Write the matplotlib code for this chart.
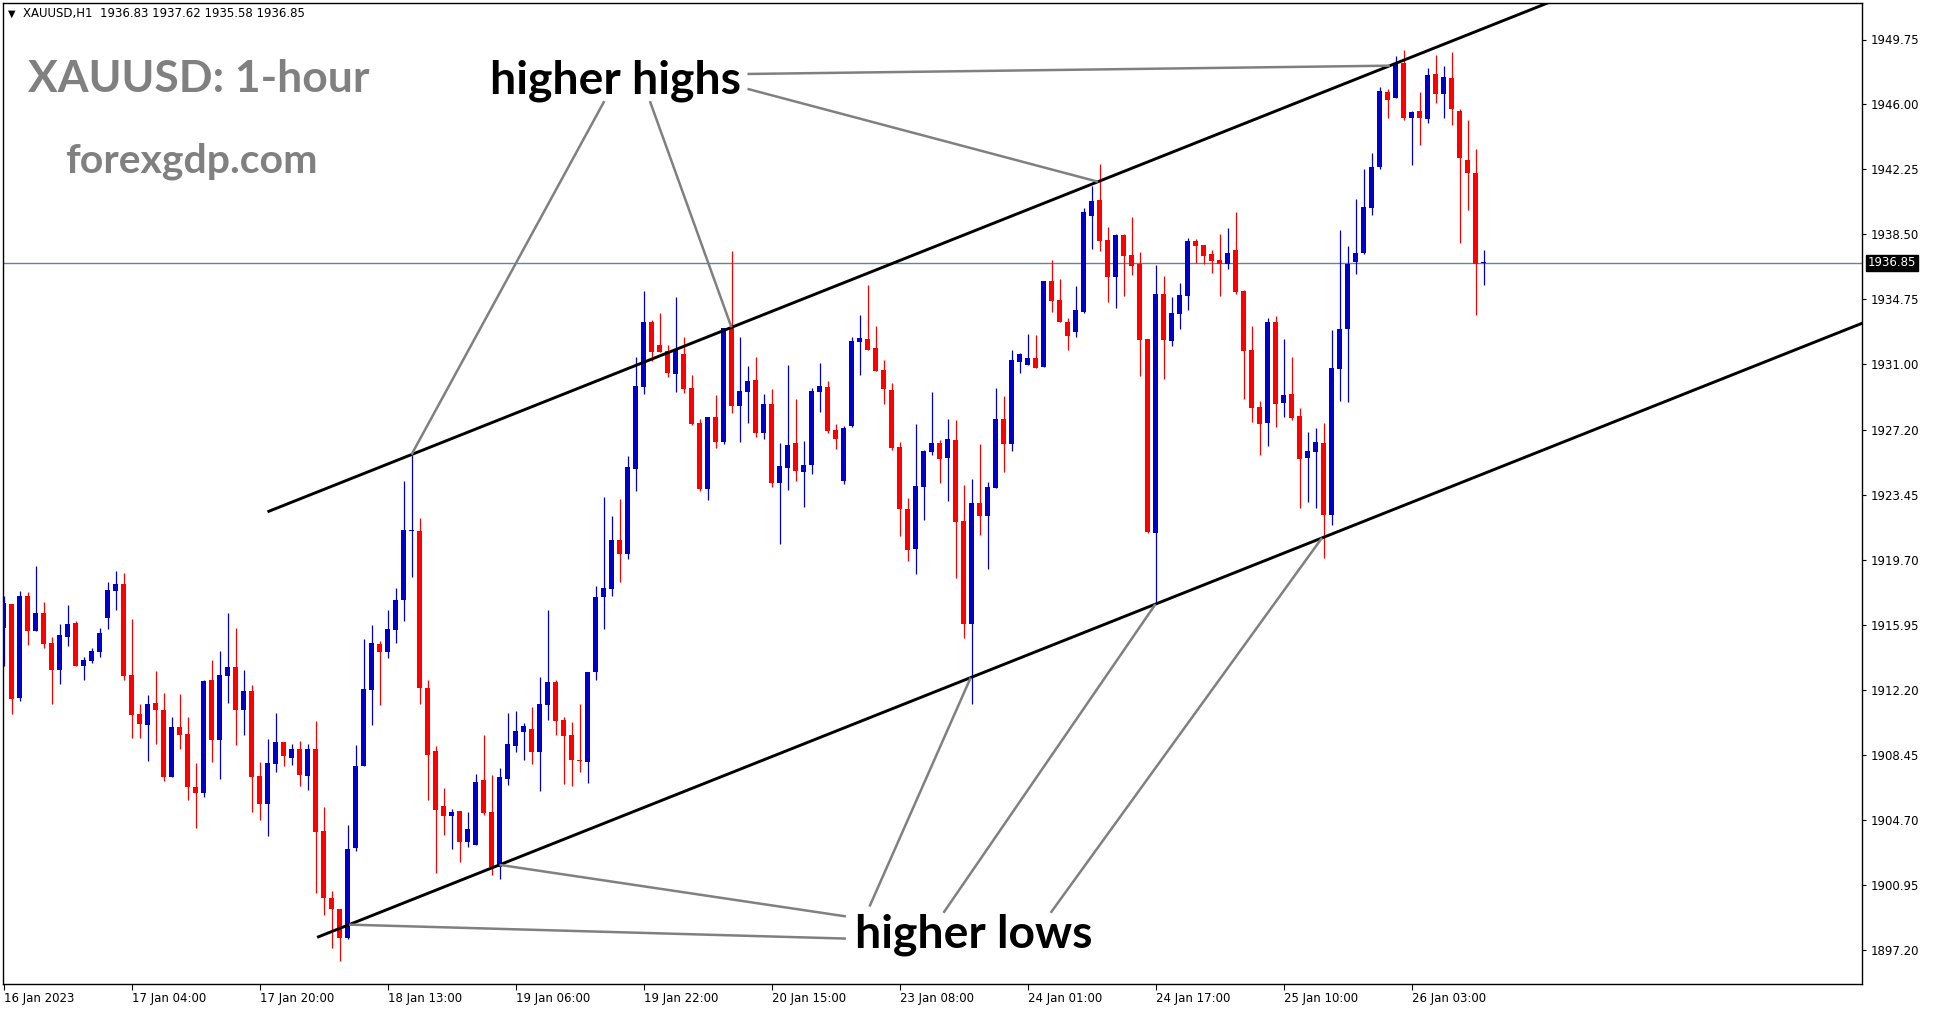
"""Hourly XAUUSD chart with channel lines and higher-high / higher-low notes."""

import matplotlib

matplotlib.use("Agg")
import matplotlib.pyplot as plt
import matplotlib.transforms as mtransforms

W, H, DPI = 1934, 1011, 100

# OHLC values, one entry per candle (bar index 0..185)
opens = [
    1915.79, 1917.15, 1911.75, 1917.62, 1915.62, 1916.64, 1914.90, 1913.34, 1915.25, 1916.06,
    1913.58, 1913.86, 1914.38, 1916.35, 1917.91, 1918.31, 1913.06, 1910.80, 1910.17, 1911.44,
    1911.03, 1907.17, 1910.05, 1909.65, 1906.59, 1906.24, 1912.77, 1909.30, 1913.00, 1913.52,
    1911.03, 1912.13, 1907.22, 1905.63, 1907.94, 1909.19, 1908.24, 1908.79, 1907.24, 1908.79,
    1904.06, 1900.20, 1899.57, 1897.90, 1903.07, 1907.78, 1912.21, 1914.86, 1914.36, 1915.67,
    1917.36, 1921.36, 1921.36, 1912.33, 1908.67, 1905.49, 1904.94, 1905.21, 1903.44, 1903.27,
    1907.00, 1905.15, 1902.00, 1907.04, 1908.97, 1909.78, 1909.94, 1908.62, 1911.35, 1912.64,
    1910.46, 1909.59, 1908.17, 1908.05, 1913.22, 1917.57, 1918.05, 1920.85, 1920.07, 1924.97,
    1929.70, 1933.43, 1932.11, 1931.74, 1930.46, 1931.59, 1929.63, 1927.61, 1923.78, 1927.98,
    1926.50, 1933.08, 1928.58, 1929.39, 1930.09, 1927.05, 1928.70, 1924.14, 1925.01, 1926.45,
    1924.77, 1925.18, 1929.39, 1929.68, 1927.20, 1924.26, 1927.43, 1932.28, 1932.45, 1931.93,
    1930.67, 1929.51, 1926.22, 1922.64, 1920.33, 1923.91, 1925.93, 1926.45, 1925.58, 1926.62,
    1921.95, 1916.00, 1922.99, 1922.23, 1923.86, 1927.84, 1926.40, 1931.13, 1930.96, 1931.36,
    1930.86, 1935.81, 1934.71, 1933.44, 1932.86, 1934.02, 1939.56, 1940.49, 1938.18, 1936.06,
    1938.46, 1937.31, 1936.79, 1932.46, 1921.28, 1935.06, 1932.34, 1933.90, 1934.94, 1938.12,
    1937.89, 1937.37, 1937.02, 1936.79, 1937.60, 1935.23, 1931.83, 1928.55, 1927.63, 1933.44,
    1928.78, 1929.29, 1928.03, 1925.61, 1925.96, 1926.46, 1922.32, 1930.73, 1933.04, 1936.91,
    1937.43, 1940.02, 1942.39, 1946.72, 1946.39, 1948.39, 1945.22, 1945.62, 1945.16, 1947.76,
    1946.60, 1947.53, 1945.62, 1942.79, 1942.04, 1936.83,
]
highs = [
    1917.62, 1917.15, 1917.91, 1917.85, 1919.35, 1917.27, 1915.23, 1916.00, 1917.10, 1916.17,
    1914.09, 1914.61, 1915.77, 1918.43, 1919.06, 1918.94, 1916.29, 1911.38, 1911.90, 1913.29,
    1912.02, 1910.63, 1911.96, 1910.63, 1907.97, 1912.77, 1913.92, 1914.44, 1916.64, 1915.77,
    1913.34, 1912.49, 1908.04, 1909.37, 1910.86, 1909.19, 1909.07, 1909.25, 1909.07, 1910.40,
    1905.43, 1900.56, 1899.57, 1904.40, 1909.03, 1915.14, 1915.95, 1915.00, 1916.81, 1918.08,
    1924.26, 1925.74, 1922.14, 1912.77, 1908.95, 1906.55, 1905.33, 1905.21, 1905.15, 1907.34,
    1909.59, 1907.30, 1907.70, 1910.85, 1910.97, 1910.29, 1911.20, 1912.93, 1916.81, 1912.77,
    1910.62, 1910.33, 1911.39, 1913.22, 1918.21, 1923.32, 1922.25, 1923.22, 1925.70, 1931.41,
    1935.22, 1933.55, 1933.96, 1932.09, 1934.87, 1932.60, 1930.38, 1927.82, 1927.98, 1929.22,
    1933.12, 1937.53, 1932.58, 1930.90, 1931.41, 1929.28, 1929.57, 1926.45, 1930.95, 1928.99,
    1926.56, 1929.62, 1931.07, 1930.03, 1927.55, 1927.43, 1932.57, 1933.84, 1935.57, 1933.20,
    1931.24, 1929.91, 1926.51, 1923.27, 1927.55, 1926.05, 1929.39, 1926.62, 1927.84, 1927.78,
    1924.02, 1924.37, 1926.39, 1924.20, 1929.63, 1929.17, 1931.82, 1931.65, 1932.75, 1932.69,
    1935.81, 1937.02, 1935.92, 1933.67, 1935.52, 1940.00, 1941.29, 1942.56, 1938.95, 1938.52,
    1938.52, 1939.50, 1937.48, 1932.46, 1936.73, 1936.10, 1934.88, 1935.69, 1938.29, 1938.23,
    1937.89, 1937.60, 1938.52, 1938.87, 1939.81, 1935.29, 1933.21, 1928.88, 1933.67, 1933.79,
    1932.46, 1931.42, 1928.50, 1927.09, 1927.32, 1927.61, 1932.98, 1938.75, 1937.83, 1940.54,
    1942.28, 1943.20, 1947.00, 1946.89, 1948.80, 1949.15, 1945.62, 1946.72, 1948.11, 1948.86,
    1948.22, 1949.03, 1945.74, 1945.10, 1943.43, 1937.62,
]
lows = [
    1913.58, 1910.82, 1911.55, 1914.79, 1915.62, 1914.61, 1911.38, 1912.54, 1914.73, 1913.58,
    1912.77, 1913.75, 1914.09, 1915.71, 1916.81, 1912.77, 1909.42, 1909.42, 1908.09, 1909.07,
    1906.94, 1907.17, 1908.78, 1905.84, 1904.22, 1906.01, 1908.03, 1907.05, 1911.44, 1909.01,
    1909.59, 1905.17, 1904.66, 1903.76, 1907.48, 1907.82, 1907.88, 1906.65, 1906.39, 1900.50,
    1899.23, 1897.32, 1896.56, 1897.80, 1902.91, 1907.78, 1910.17, 1911.30, 1914.06, 1914.92,
    1916.19, 1918.74, 1911.40, 1905.85, 1901.65, 1903.82, 1903.01, 1902.29, 1903.15, 1903.27,
    1905.00, 1901.50, 1901.30, 1906.73, 1908.62, 1908.17, 1907.94, 1906.38, 1910.48, 1909.59,
    1906.79, 1906.66, 1907.43, 1906.85, 1912.79, 1915.74, 1917.63, 1918.40, 1919.78, 1923.70,
    1929.30, 1931.16, 1931.72, 1930.27, 1929.41, 1929.35, 1927.51, 1923.68, 1923.18, 1926.17,
    1926.40, 1928.21, 1926.50, 1927.62, 1926.81, 1926.70, 1923.93, 1920.64, 1923.74, 1924.26,
    1922.75, 1924.66, 1928.24, 1927.05, 1926.10, 1924.08, 1927.37, 1930.38, 1931.82, 1930.61,
    1928.70, 1926.05, 1921.08, 1919.64, 1918.89, 1922.00, 1925.76, 1924.14, 1923.10, 1918.65,
    1915.20, 1911.40, 1921.14, 1919.17, 1923.86, 1924.78, 1925.99, 1930.50, 1930.96, 1930.80,
    1930.86, 1934.04, 1933.46, 1931.82, 1932.57, 1933.94, 1937.66, 1937.54, 1934.61, 1934.27,
    1934.96, 1936.15, 1930.32, 1921.28, 1917.24, 1930.15, 1932.06, 1933.04, 1934.13, 1936.85,
    1936.79, 1936.27, 1934.94, 1936.50, 1935.06, 1928.98, 1927.69, 1925.78, 1926.30, 1927.40,
    1927.98, 1927.80, 1922.72, 1923.07, 1922.72, 1919.84, 1921.74, 1928.88, 1928.82, 1936.21,
    1937.37, 1939.62, 1942.28, 1945.24, 1946.39, 1945.10, 1942.51, 1943.66, 1944.93, 1946.09,
    1945.22, 1944.81, 1938.00, 1939.91, 1933.85, 1935.58,
]
closes = [
    1917.19, 1911.67, 1917.62, 1915.62, 1916.64, 1914.85, 1913.34, 1915.36, 1916.00, 1913.58,
    1913.92, 1914.44, 1915.48, 1917.96, 1918.31, 1913.00, 1910.75, 1910.23, 1911.38, 1911.03,
    1907.17, 1910.05, 1909.59, 1906.59, 1906.24, 1912.71, 1909.30, 1913.06, 1913.52, 1911.03,
    1912.13, 1907.18, 1905.63, 1907.98, 1909.19, 1908.40, 1908.79, 1907.30, 1908.79, 1904.02,
    1900.20, 1899.57, 1897.90, 1903.01, 1907.80, 1912.25, 1914.92, 1914.36, 1915.71, 1917.38,
    1921.42, 1921.40, 1912.33, 1908.46, 1905.29, 1904.94, 1905.15, 1903.44, 1904.16, 1906.88,
    1905.09, 1901.97, 1907.16, 1909.08, 1909.80, 1910.11, 1908.62, 1911.39, 1912.64, 1910.42,
    1909.55, 1908.17, 1908.10, 1913.22, 1917.57, 1918.09, 1920.85, 1920.07, 1925.06, 1929.76,
    1933.43, 1931.68, 1931.72, 1930.52, 1931.82, 1929.59, 1927.55, 1923.82, 1927.98, 1926.50,
    1933.12, 1928.58, 1929.45, 1930.03, 1927.05, 1928.70, 1924.14, 1925.12, 1926.33, 1924.83,
    1925.18, 1929.45, 1929.74, 1927.14, 1926.68, 1927.32, 1932.34, 1932.51, 1931.82, 1930.61,
    1929.57, 1926.16, 1922.64, 1920.27, 1923.97, 1925.99, 1926.45, 1925.53, 1926.68, 1921.89,
    1916.00, 1922.99, 1922.23, 1923.91, 1927.84, 1926.40, 1931.25, 1931.59, 1931.36, 1930.80,
    1935.81, 1934.67, 1933.46, 1932.63, 1934.13, 1939.81, 1940.43, 1938.12, 1936.06, 1938.46,
    1937.27, 1936.69, 1932.40, 1921.34, 1935.06, 1932.40, 1933.96, 1935.00, 1938.12, 1937.83,
    1937.25, 1936.96, 1936.79, 1937.42, 1935.19, 1931.79, 1928.50, 1927.57, 1933.44, 1928.73,
    1929.23, 1927.92, 1925.55, 1925.99, 1926.51, 1922.32, 1930.79, 1933.04, 1936.79, 1937.43,
    1940.08, 1942.39, 1946.78, 1946.28, 1948.34, 1945.22, 1945.57, 1945.22, 1947.70, 1946.60,
    1947.59, 1945.74, 1942.91, 1942.04, 1936.79, 1936.85,
]
assert len(opens) == len(highs) == len(lows) == len(closes)

price_ticks = [1949.75, 1946.00, 1942.25, 1938.50, 1934.75, 1931.00, 1927.20, 1923.45,
               1919.70, 1915.95, 1912.20, 1908.45, 1904.70, 1900.95, 1897.20]
time_tick_bars = [0, 16, 32, 48, 64, 80, 96, 112, 128, 144, 160, 176]
time_tick_labels = ["16 Jan 2023", "17 Jan 04:00", "17 Jan 20:00", "18 Jan 13:00",
                    "19 Jan 06:00", "19 Jan 22:00", "20 Jan 15:00", "23 Jan 08:00",
                    "24 Jan 01:00", "24 Jan 17:00", "25 Jan 10:00", "26 Jan 03:00"]
last_price = closes[-1]

# channel: (start bar, price at start), both lines share one slope ($ per bar)
upper_channel = (33.0, 1922.48)
lower_channel = (39.2, 1897.91)
channel_slope = 0.1836
# where the annotation lines touch the channel, and where they meet the labels
hh_touch_bars = [51.0, 91.0, 136.8, 173.3]
hh_label_ends = [(75.1, 1946.19), (80.8, 1946.19), (93.0, 1946.90), (93.0, 1947.76)]
hl_touch_bars = [43.2, 62.0, 120.9, 144.0, 164.8]
hl_label_ends = [(105.3, 1897.84), (105.3, 1899.12), (108.25, 1899.69),
                 (117.5, 1899.33), (130.9, 1899.33)]

BLUE = "#0000C8"
RED = "#FF0000"
GRAY = "#808080"


def channel_price(line, bar):
    start_bar, start_price = line
    return start_price + (bar - start_bar) * channel_slope


def fpx(x, y):
    """Figure fraction from reference pixel coordinates (origin top-left)."""
    return x / W, 1 - y / H


fig = plt.figure(figsize=(W / DPI, H / DPI), dpi=DPI, facecolor="white")
ax_left, ax_right, ax_top, ax_bottom = 2.5, 1862.0, 2.5, 984.0
ax = fig.add_axes([ax_left / W, 1 - ax_bottom / H,
                   (ax_right - ax_left) / W, (ax_bottom - ax_top) / H])

bars = list(range(len(opens)))
colors = [BLUE if c >= o else RED for o, c in zip(opens, closes)]

ax.vlines(bars, lows, highs, colors=colors, linewidth=0.9, zorder=3)
body_low = [min(o, c) for o, c in zip(opens, closes)]
body_h = [max(abs(c - o), 0.07) for o, c in zip(opens, closes)]
ax.bar(bars, body_h, bottom=body_low, width=0.62, color=colors, linewidth=0, zorder=4)

ax.axhline(last_price, color="#708090", linewidth=1.0, zorder=2)

# channel lines
x_end = 240
ax.plot([upper_channel[0], x_end],
        [upper_channel[1], channel_price(upper_channel, x_end)],
        color="black", linewidth=2.1, zorder=5, solid_capstyle="butt")
ax.plot([lower_channel[0], x_end],
        [lower_channel[1], channel_price(lower_channel, x_end)],
        color="black", linewidth=2.1, zorder=5, solid_capstyle="butt")

for bar, (lx, ly) in zip(hh_touch_bars, hh_label_ends):
    ax.plot([lx, bar], [ly, channel_price(upper_channel, bar)],
            color=GRAY, linewidth=1.8, zorder=6, solid_capstyle="butt")
for bar, (lx, ly) in zip(hl_touch_bars, hl_label_ends):
    ax.plot([lx, bar], [ly, channel_price(lower_channel, bar)],
            color=GRAY, linewidth=1.8, zorder=6, solid_capstyle="butt")

ax.set_xlim((ax_left - 3.5) / 8, (ax_right - 3.5) / 8)
ax.set_ylim(1949.75 - (ax_bottom - 39.5) / 17.32, 1949.75 + (39.5 - ax_top) / 17.32)

for spine in ax.spines.values():
    spine.set_linewidth(1.0)
    spine.set_color("black")

ax.yaxis.tick_right()
ax.set_yticks(price_ticks)
ax.set_yticklabels([f"{p:.2f}" for p in price_ticks])
ax.tick_params(axis="y", direction="out", length=3, width=0.8, pad=3,
               labelsize=8.5, colors="black")
ax.set_xticks(time_tick_bars)
ax.set_xticklabels(time_tick_labels)
ax.tick_params(axis="x", direction="out", length=4, width=0.8, pad=2,
               labelsize=8.5, colors="black")
for lbl in ax.get_xticklabels():
    lbl.set_horizontalalignment("left")

# current price box on the right scale
box_tr = mtransforms.blended_transform_factory(fig.transFigure, ax.transData)
fig.text(1868 / W, last_price, f"{last_price:.2f}", transform=box_tr, fontsize=8.5,
         color="white", va="center", ha="left",
         bbox=dict(boxstyle="square,pad=0.15", facecolor="black", edgecolor="black"))

# header line
fig.text(*fpx(8, 14), "\u25bc", fontsize=7, va="center", ha="left", color="black")
fig.text(*fpx(23, 14),
         f"XAUUSD,H1  {opens[-1]:.2f} {highs[-1]:.2f} {lows[-1]:.2f} {closes[-1]:.2f}",
         fontsize=8.5, va="center", ha="left", color="black")

# large labels, sized so their width matches the reference
big_labels = [
    ("XAUUSD: 1-hour", 28, 92, 341, GRAY),
    ("forexgdp.com", 65, 172, 252, GRAY),
    ("higher highs", 490, 94, 250, "black"),
    ("higher lows", 855, 948, 237, "black"),
]
texts = []
for s, x, y, width, color in big_labels:
    t = fig.text(*fpx(x, y), s, fontsize=30, fontweight="bold", family="Lato",
                 color=color, ha="left", va="baseline", zorder=10)
    texts.append((t, width))

renderer = fig.canvas.get_renderer()
for t, width in texts:
    w = t.get_window_extent(renderer).width
    t.set_fontsize(t.get_fontsize() * width / w)

fig.savefig("out.png", dpi=DPI, facecolor="white")
